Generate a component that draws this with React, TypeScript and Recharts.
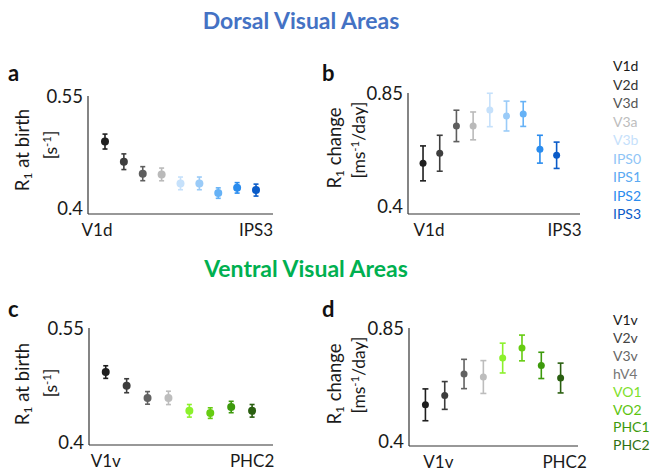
import { ScatterChart, Scatter, XAxis, YAxis, ErrorBar } from 'recharts';

const dorsalAreas = ['V1d', 'V2d', 'V3d', 'V3a', 'V3b', 'IPS0', 'IPS1', 'IPS2', 'IPS3'];
const dorsalColors = ['#1f1f1f', '#3e3e3e', '#5e5e5e', '#bababa', '#c6e1fb', '#9acbf8', '#66b2f6', '#2a8cee', '#0a5bc8'];
const dorsalLabelColors = ['#1a1a1a', '#333333', '#555555', '#bdbdbd', '#c6e1fb', '#8fc5f6', '#5aaaf2', '#2a8cee', '#0a5bc8'];
const dorsalBirth = [0.489, 0.462, 0.446, 0.445, 0.433, 0.433, 0.42, 0.427, 0.424];
const dorsalBirthErr = [0.01, 0.0105, 0.0094, 0.0085, 0.0085, 0.0085, 0.007, 0.007, 0.008];
const dorsalChange = [0.572, 0.612, 0.72, 0.72, 0.783, 0.759, 0.767, 0.628, 0.604];
const dorsalChangeErr = [0.069, 0.071, 0.062, 0.055, 0.066, 0.059, 0.049, 0.055, 0.052];

const ventralAreas = ['V1v', 'V2v', 'V3v', 'hV4', 'VO1', 'VO2', 'PHC1', 'PHC2'];
const ventralColors = ['#1e1e1e', '#3c3c3c', '#626262', '#bdbdbd', '#8cf12c', '#66cc11', '#3d9a0c', '#2a5f10'];
const ventralLabelColors = ['#1a1a1a', '#444444', '#666666', '#777777', '#7ee02a', '#5cc40e', '#3d9a0c', '#2f7012'];
const ventralBirth = [0.492, 0.474, 0.458, 0.458, 0.441, 0.438, 0.446, 0.441];
const ventralBirthErr = [0.0083, 0.0092, 0.0083, 0.0088, 0.0083, 0.007, 0.0075, 0.0083];
const ventralChange = [0.546, 0.583, 0.668, 0.656, 0.731, 0.771, 0.702, 0.652];
const ventralChangeErr = [0.063, 0.055, 0.058, 0.065, 0.059, 0.051, 0.052, 0.059];

const birthTicks = [0.4, 0.55];
const changeTicks = [0.4, 0.85];

const FONT = 'Lato, "Open Sans", sans-serif';
const AXIS = '#333333';
const INK = '#1a1a1a';

type PanelProps = {
  left: number;
  top: number;
  width: number;
  height: number;
  margin: { top: number; right: number; bottom: number; left: number };
  xDomain: [number, number];
  yDomain: [number, number];
  yTicks: number[];
  areas: string[];
  colors: string[];
  values: number[];
  errs: number[];
  r: number;
  cap: number;
  tickDx: number[];
  xAxisHeight: number;
};

function Panel(p: PanelProps) {
  const n = p.areas.length;
  const XTick = (props: any) => {
    const { x, y, index, payload } = props;
    const name = payload.value === 1 ? p.areas[0] : p.areas[n - 1];
    return (
      <text x={x + p.tickDx[index]} y={y + 15} textAnchor="middle" dominantBaseline="central"
        fontSize={17} fill={INK} fontFamily={FONT}>{name}</text>
    );
  };
  return (
    <div style={{ position: 'absolute', left: p.left, top: p.top }}>
      <ScatterChart width={p.width} height={p.height} margin={p.margin}>
        <XAxis type="number" dataKey="x" domain={p.xDomain} ticks={[1, n]} allowDataOverflow
          stroke={AXIS} strokeWidth={1.2} tickLine={false} tickSize={0} tickMargin={0}
          height={p.xAxisHeight} tick={<XTick />} />
        <YAxis type="number" dataKey="y" domain={p.yDomain} ticks={p.yTicks} allowDataOverflow
          stroke={AXIS} strokeWidth={1.2} tickLine={false} tickSize={0} tickMargin={5} width={50}
          tick={{ fontSize: 18.5, fill: INK, fontFamily: FONT }} />
        {p.areas.map((a, i) => (
          <Scatter key={a} name={a} isAnimationActive={false}
            data={[{ x: i + 1, y: p.values[i], err: p.errs[i] }]}
            shape={(s: any) => <circle cx={s.cx} cy={s.cy} r={p.r} fill={p.colors[i]} />}>
            <ErrorBar dataKey="err" direction="y" width={p.cap} stroke={p.colors[i]} strokeWidth={1.6} />
          </Scatter>
        ))}
      </ScatterChart>
    </div>
  );
}

function VText({ x, y, size, children }: { x: number; y: number; size: number; children: any }) {
  return (
    <div style={{
      position: 'absolute', left: x, top: y, transform: 'translate(-50%, -50%) rotate(-90deg)',
      whiteSpace: 'nowrap', fontSize: size, color: INK, lineHeight: 1, fontFamily: FONT,
    }}>{children}</div>
  );
}

function Legend({ left, top, step, names, colors }: { left: number; top: number; step: number; names: string[]; colors: string[] }) {
  return (
    <>
      {names.map((nm, i) => (
        <div key={nm} style={{
          position: 'absolute', left, top: top + i * step, transform: 'translateY(-50%)',
          fontSize: 14, color: colors[i], fontFamily: FONT, lineHeight: 1, whiteSpace: 'nowrap',
        }}>{nm}</div>
      ))}
    </>
  );
}

const sub = { fontSize: '0.65em', verticalAlign: '-0.25em' } as const;
const sup = { fontSize: '0.65em', verticalAlign: '0.55em' } as const;

function Letter({ x, y, ch }: { x: number; y: number; ch: string }) {
  return (
    <div style={{ position: 'absolute', left: x, top: y, transform: 'translateY(-50%)', fontSize: 22,
      fontWeight: 700, fontFamily: FONT, lineHeight: 1, color: '#111' }}>{ch}</div>
  );
}

function Title({ x, y, color, text }: { x: number; y: number; color: string; text: string }) {
  return (
    <div style={{ position: 'absolute', left: x, top: y, transform: 'translate(-50%, -50%)', fontSize: 23,
      fontWeight: 700, fontFamily: FONT, color, whiteSpace: 'nowrap', lineHeight: 1 }}>{text}</div>
  );
}

export default function App() {
  return (
    <div style={{ position: 'fixed', left: 0, top: 0, width: 651, height: 474, background: '#fff', overflow: 'hidden' }}>
      <Title x={301} y={20} color="#4472C4" text="Dorsal Visual Areas" />
      <Title x={306} y={268} color="#00B050" text="Ventral Visual Areas" />

      <Letter x={8} y={73} ch="a" />
      <Letter x={322} y={73} ch="b" />
      <Letter x={8} y={309} ch="c" />
      <Letter x={322} y={309} ch="d" />

      <VText x={24} y={150} size={18.5}>R<span style={sub}>1</span> at birth</VText>
      <VText x={50} y={145} size={17.5}>[s<span style={sup}>-1</span>]</VText>
      <VText x={336} y={148} size={18.5}>R<span style={sub}>1</span> change</VText>
      <VText x={358} y={140} size={17.5}>[ms<span style={sup}>-1</span>/day]</VText>
      <VText x={24} y={384} size={18.5}>R<span style={sub}>1</span> at birth</VText>
      <VText x={50} y={383} size={17.5}>[s<span style={sup}>-1</span>]</VText>
      <VText x={336} y={384} size={18.5}>R<span style={sub}>1</span> change</VText>
      <VText x={358} y={375} size={17.5}>[ms<span style={sup}>-1</span>/day]</VText>

      <Panel left={0} top={60} width={290} height={180} margin={{ top: 36, right: 17, bottom: 0, left: 38 }}
        xDomain={[0.1, 9.9]} yDomain={[0.392, 0.55]} yTicks={birthTicks} areas={dorsalAreas}
        colors={dorsalColors} values={dorsalBirth} errs={dorsalBirthErr} r={4} cap={2.5} tickDx={[-8, 0]} xAxisHeight={26} />
      <Panel left={320} top={60} width={270} height={180} margin={{ top: 33, right: 10, bottom: 0, left: 38 }}
        xDomain={[0.1, 10.4]} yDomain={[0.372, 0.85]} yTicks={changeTicks} areas={dorsalAreas}
        colors={dorsalColors} values={dorsalChange} errs={dorsalChangeErr} r={3.5} cap={3} tickDx={[6, 8]} xAxisHeight={26} />
      <Panel left={0} top={295} width={290} height={175} margin={{ top: 33, right: 17, bottom: 0, left: 39 }}
        xDomain={[0.2, 9]} yDomain={[0.396, 0.55]} yTicks={birthTicks} areas={ventralAreas}
        colors={ventralColors} values={ventralBirth} errs={ventralBirthErr} r={4} cap={2.5} tickDx={[0, 0]} xAxisHeight={25} />
      <Panel left={320} top={295} width={270} height={175} margin={{ top: 33, right: 12, bottom: 0, left: 39 }}
        xDomain={[0.15, 8.9]} yDomain={[0.383, 0.85]} yTicks={changeTicks} areas={ventralAreas}
        colors={ventralColors} values={ventralChange} errs={ventralChangeErr} r={3.5} cap={3} tickDx={[13, 4]} xAxisHeight={24} />

      <Legend left={613} top={66} step={18.5} names={dorsalAreas} colors={dorsalLabelColors} />
      <Legend left={613} top={320} step={17.9} names={ventralAreas} colors={ventralLabelColors} />
    </div>
  );
}
